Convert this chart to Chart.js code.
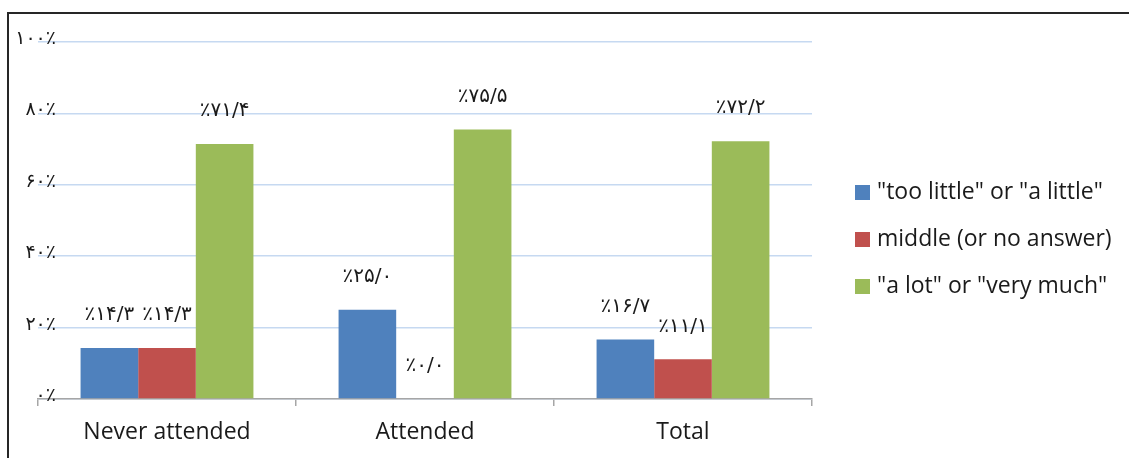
<!DOCTYPE html>
<html>
<head>
<meta charset="utf-8">
<script src="https://cdn.jsdelivr.net/npm/chart.js@4/dist/chart.umd.min.js"></script>
<style>
  html, body { margin: 0; padding: 0; background: #fff; }
  #wrap { width: 1129px; height: 458px; position: relative; }
</style>
</head>
<body>
<div id="wrap"><canvas id="c"></canvas></div>
<script>
const categories = [ 'Never attended', 'Attended', 'Total' ];
const seriesNames = [ '"too little" or "a little"', 'middle (or no answer)', '"a lot" or "very much"' ];
const littleValues = [ 14.3, 25.0, 16.7 ];
const middleValues = [ 14.3, 0.0, 11.1 ];
const muchValues = [ 71.4, 75.5, 72.2 ];
const yTicks = [ 0, 20, 40, 60, 80, 100 ];
const colors = [ '#4f81bd', '#c0504d', '#9bbb59' ];

const faFont = 'DejaVu Sans, sans-serif';
const latinFont = 'Open Sans, sans-serif';

const faDigits = s => String( s ).replace( /[0-9]/g, d => '۰۱۲۳۴۵۶۷۸۹'[ d ] );
const tickText = v => faDigits( v ) + '٪';
const valueText = v => '٪' + faDigits( v.toFixed( 1 ) ).replace( '.', '/' );

Chart.defaults.font.family = latinFont;
Chart.defaults.color = '#1a1a1a';
Chart.defaults.animation = false;

const frame = {
    id: 'frame',
    afterDraw( chart ) {
        const ctx = chart.ctx;
        ctx.save();
        ctx.strokeStyle = '#262626';
        ctx.lineWidth = 2;
        ctx.beginPath();
        ctx.moveTo( 8, 458 );
        ctx.lineTo( 8, 13 );
        ctx.lineTo( 1129, 13 );
        ctx.stroke();
        ctx.restore();
    }
};

// y tick labels sit over the start of the gridlines, as in the original
const yLabels = {
    id: 'yLabels',
    afterDraw( chart ) {
        const ctx = chart.ctx;
        const y = chart.scales.y;
        ctx.save();
        ctx.font = '19px ' + faFont;
        ctx.fillStyle = '#1a1a1a';
        ctx.textAlign = 'right';
        ctx.textBaseline = 'middle';
        yTicks.forEach( v => {
            ctx.fillText( tickText( v ), 56, y.getPixelForValue( v ) - 3 );
        } );
        ctx.restore();
    }
};

const valueLabels = {
    id: 'valueLabels',
    afterDatasetsDraw( chart ) {
        const ctx = chart.ctx;
        ctx.save();
        ctx.font = '20px ' + faFont;
        ctx.fillStyle = '#1a1a1a';
        ctx.textAlign = 'center';
        ctx.textBaseline = 'middle';
        chart.data.datasets.forEach( ( ds, i ) => {
            chart.getDatasetMeta( i ).data.forEach( ( bar, j ) => {
                ctx.fillText( valueText( ds.data[ j ] ), bar.x, bar.y - 33 );
            } );
        } );
        ctx.restore();
    }
};

const sideLegend = {
    id: 'sideLegend',
    afterDraw( chart ) {
        const ctx = chart.ctx;
        ctx.save();
        ctx.font = '23px ' + latinFont;
        ctx.textBaseline = 'middle';
        chart.data.datasets.forEach( ( ds, i ) => {
            const y = 192 + i * 47;
            ctx.fillStyle = ds.backgroundColor;
            ctx.fillRect( 855, y - 7, 15, 15 );
            ctx.fillStyle = '#1a1a1a';
            ctx.fillText( ds.label, 877, y );
        } );
        ctx.restore();
    }
};

new Chart( document.getElementById( 'c' ), {
    type: 'bar',
    data: {
        labels: categories,
        datasets: [ littleValues, middleValues, muchValues ].map( ( vals, i ) => ( {
            label: seriesNames[ i ],
            data: vals,
            backgroundColor: colors[ i ],
            categoryPercentage: 0.67,
            barPercentage: 1.0
        } ) )
    },
    options: {
        responsive: true,
        maintainAspectRatio: false,
        events: [],
        layout: { padding: { left: 8, top: 42, right: 317, bottom: 0 } },
        plugins: { legend: { display: false }, tooltip: { enabled: false } },
        scales: {
            x: {
                afterFit: s => { s.height = 59; },
                grid: { drawOnChartArea: false, color: '#a6a6a6', tickLength: 7, lineWidth: 1.5 },
                border: { color: '#a6a6a6', width: 1.5 },
                ticks: { font: { size: 23 }, color: '#1a1a1a', padding: 13 }
            },
            y: {
                min: 0,
                max: 100,
                afterFit: s => { s.width = 30; },
                afterBuildTicks: s => { s.ticks = yTicks.map( v => ( { value: v } ) ); },
                grid: { color: '#c6d9f1', lineWidth: 1.5, drawTicks: false },
                border: { display: false },
                ticks: { display: false }
            }
        }
    },
    plugins: [ frame, yLabels, valueLabels, sideLegend ]
} );
</script>
</body>
</html>
